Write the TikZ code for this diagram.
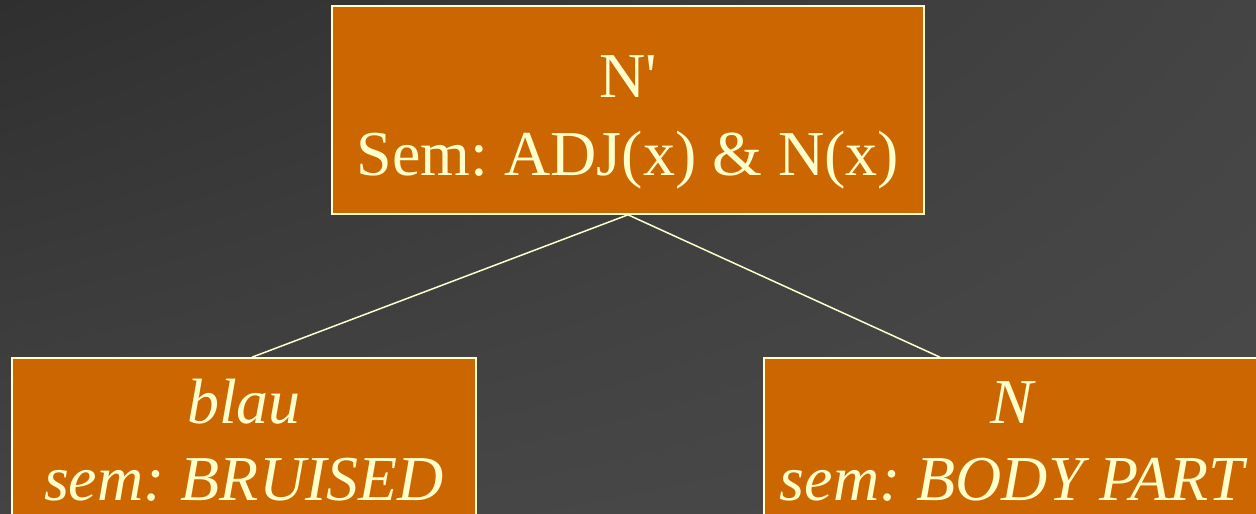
\documentclass[tikz,border=0pt]{standalone}
\usepackage{fontspec}
\setmainfont{Liberation Serif}
\newfontfamily\plainserif{Liberation Serif}
\usetikzlibrary{shadings}
\frenchspacing
\definecolor{boxfill}{HTML}{CC6600}
\definecolor{ink}{HTML}{FFFFCC}
\definecolor{bgdark}{HTML}{2F2F2F}
\definecolor{bgmid}{HTML}{444444}
\definecolor{bglight}{HTML}{4A4A4A}
\tikzset{
  treebox/.style={draw=ink, line width=1.6pt, fill=boxfill, rectangle, inner sep=0pt},
  boxtext/.style={text=ink, anchor=base, inner sep=0pt, font=\fontsize{64}{77}\selectfont},
  branch/.style={draw=ink, line width=1.5pt}
}
\begin{document}
\begin{tikzpicture}[x=1pt,y=-1pt]
\useasboundingbox (0,0) rectangle (1256,514);
\clip (0,0) rectangle (1256,514);
\shade[upper left=bgdark, upper right=bgmid, lower left=bgmid, lower right=bglight] (0,0) rectangle (1256,514);

\node[treebox, minimum width=592pt, minimum height=208pt] (T) at (628,110) {};
\node[treebox, minimum width=464pt, minimum height=182pt] (L) at (244,449) {};
\node[treebox, minimum width=496pt, minimum height=182pt] (R) at (1012,449) {};

\node[boxtext] (t1) at (628,97) {\plainserif N'};
\node[boxtext] (t2) at (628,175) {\frenchspacing Sem: ADJ(x) \& N(x)};
\node[boxtext] (l1) at (244,423) {\itshape blau};
\node[boxtext] (l2) at (244,500) {\itshape\frenchspacing sem: BRUISED};
\node[boxtext] (r1) at (1012,423) {\itshape N};
\node[boxtext] (r2) at (1012,500) {\itshape\frenchspacing sem: BODY PART};

\draw[branch] (T.south) -- ([xshift=8pt]L.north);
\draw[branch] (T.south) -- ([xshift=-72pt]R.north);
\end{tikzpicture}
\end{document}
